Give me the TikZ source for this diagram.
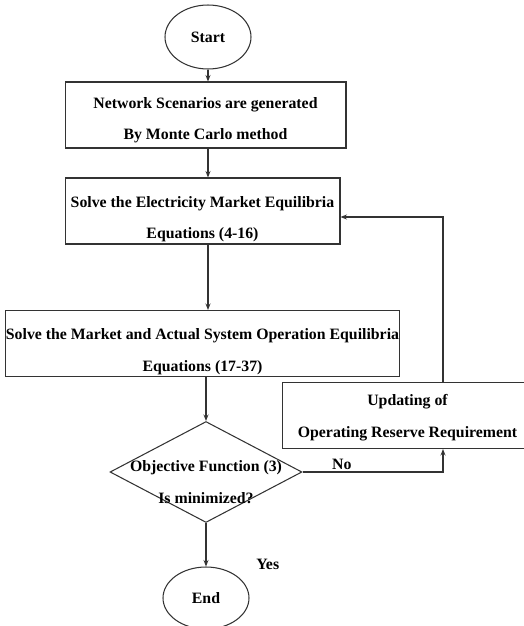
\documentclass[tikz,border=0pt]{standalone}
\usepackage{fontspec}
\setmainfont{Liberation Serif}
\usepackage{tikz}
\usetikzlibrary{shapes.geometric, arrows.meta, positioning, calc}

\newcommand{\toppad}[1]{\rule{0pt}{#1}}

\begin{document}
\begin{tikzpicture}[
    x=0.02cm, y=-0.02cm,
    font=\fontsize{9}{18}\selectfont\bfseries,
    line/.style={draw=black!80, line width=0.6pt},
    arrow/.style={line, -{Stealth[length=1.3mm, width=1mm]}},
    term/.style={ellipse, line, minimum width=1.72cm, minimum height=1.28cm},
    block/.style={rectangle, line, align=center, inner xsep=0pt, inner ysep=0pt, minimum height=1.32cm},
    decision/.style={diamond, line, minimum width=3.84cm, minimum height=2.02cm, inner sep=0pt}
]
    \useasboundingbox (0,0) rectangle (524,626);
    \clip (0,0) rectangle (524,626);

    % Main flow
    \node[term] (start) at (208,37) {Start};
    \node[block, minimum width=5.62cm] (scen) at (205.5,115) {\toppad{12pt}Network Scenarios are generated\\By Monte Carlo method};
    \node[block, minimum width=5.5cm] (elec) at (202.5,211) {\toppad{15.5pt}Solve the Electricity Market Equilibria\\Equations (4-16)};
    \node[block, minimum width=7.78cm] (oper) at (202.5,343.5) {\toppad{15.5pt}Solve the Market and Actual System Operation Equilibria\\Equations (17-37)};
    \node[decision] (obj) at (206,472) {};
    \node[align=center] (objtext) at ($(obj)+(0,10)$) {Objective Function (3)\\Is minimized?};
    \node[term, minimum height=1.24cm] (end) at (206,598) {End};

    % Reserve update (right edge runs off the page)
    \node[block, anchor=west, minimum width=5cm] (upd) at (282,415.5) {\toppad{9pt}Updating of\\Operating Reserve Requirement};
    \coordinate (turn) at (443,217);

    % Connectors
    \draw[arrow] (start) -- (start.south |- scen.north);
    \draw[arrow] (start.south |- scen.south) -- (start.south |- elec.north);
    \draw[arrow] (start.south |- elec.south) -- (start.south |- oper.north);
    \draw[arrow] (oper.south -| obj.north) -- (obj.north);
    \draw[arrow] (obj) -- (end) node[pos=0.95, right=25pt] (yes) {Yes};
    \draw[arrow] (obj.east) -- (obj.east -| turn) node[pos=0.28, above=0pt, inner sep=1pt] (no) {No} -- (upd.south -| turn);
    \draw[arrow] (upd.north -| turn) -- (turn) -- (turn -| elec.east);
\end{tikzpicture}
\end{document}
